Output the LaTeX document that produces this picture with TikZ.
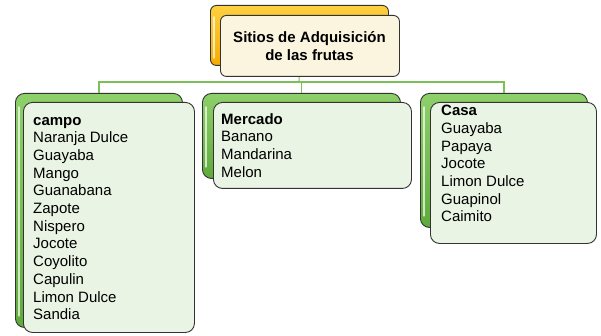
\documentclass[tikz,border=0pt]{standalone}
\usepackage{fontspec}
\setmainfont{Liberation Sans}
\definecolor{lineg}{HTML}{7CC05A}
\definecolor{gtop}{HTML}{8ED06A}
\definecolor{gbot}{HTML}{5FAA3B}
\definecolor{gfront}{HTML}{E9F4E4}
\definecolor{otop}{HTML}{FFD040}
\definecolor{obot}{HTML}{F7AC00}
\definecolor{cream}{HTML}{FBF5E0}
\definecolor{edge}{HTML}{333333}
\tikzset{
  backg/.style={draw=edge, line width=0.9pt, rounded corners=9pt, top color=gtop, bottom color=gbot, anchor=north west, inner sep=0pt},
  frontg/.style={draw=edge, line width=0.9pt, rounded corners=9pt, fill=gfront, anchor=north west, inner sep=0pt},
  backo/.style={draw=edge, line width=0.9pt, rounded corners=6pt, top color=otop, bottom color=obot, anchor=north west, inner sep=0pt},
  fronto/.style={draw=edge, line width=0.9pt, rounded corners=6pt, fill=cream, anchor=north west, inner sep=0pt},
  lst/.style={anchor=north west, inner sep=0pt, align=left, font=\fontsize{15}{17.7}\selectfont},
  conn/.style={draw=lineg, line width=1.1pt},
  shine/.style={draw=white, opacity=0.7, line width=1.5pt, line cap=round},
}
\begin{document}
\begin{tikzpicture}[x=1pt,y=-1pt]
\useasboundingbox[fill=white] (0,0) rectangle (601,336);
% boxes (back)
\node[backo, minimum width=178, minimum height=60] (rootback) at (210,5) {};
\node[backg, minimum width=167, minimum height=234] (lback) at (15,93) {};
\node[backg, minimum width=198, minimum height=85] (mback) at (202,93) {};
\node[backg, minimum width=167, minimum height=134] (rback) at (420,93) {};
% highlights
\draw[shine] ([shift={(4,12)}]rootback.north west) -- ([shift={(4,-8)}]rootback.south west);
\draw[shine] ([shift={(4,14)}]lback.north west) -- ([shift={(4,-12)}]lback.south west);
\draw[shine] ([shift={(4,14)}]mback.north west) -- ([shift={(4,-12)}]mback.south west);
\draw[shine] ([shift={(4,14)}]rback.north west) -- ([shift={(4,-12)}]rback.south west);
% connectors
\coordinate (hub) at (299,82);
\draw[conn] (rootback.south) -- (hub);
\draw[conn] (lback.north) |- (hub) -| (rback.north);
\draw[conn] (hub) -| (mback.north);
% front boxes
\node[fronto, minimum width=179, minimum height=61] (root) at (220,15) {};
\node[frontg, minimum width=171, minimum height=230] (lfront) at (23,102) {};
\node[frontg, minimum width=198, minimum height=86] (mfront) at (213,102) {};
\node[frontg, minimum width=166, minimum height=141] (rfront) at (430,102) {};
% texts
\node[anchor=north, inner sep=0pt, align=center, font=\bfseries\fontsize{15}{18.5}\selectfont] (roottxt) at (309.5,29) {\strut Sitios de Adquisición\\de las frutas};
\node[lst] (ltxt) at (33,112.5) {\strut\textbf{campo}\\Naranja Dulce\\Guayaba\\Mango\\Guanabana\\Zapote\\Nispero\\Jocote\\Coyolito\\Capulin\\Limon Dulce\\Sandia};
\node[lst] (mtxt) at (221,111.5) {\strut\textbf{Mercado}\\Banano\\Mandarina\\Melon};
\node[lst] (rtxt) at (441,103.2) {\strut\textbf{Casa}\\Guayaba\\Papaya\\Jocote\\Limon Dulce\\Guapinol\\Caimito};
\end{tikzpicture}
\end{document}
